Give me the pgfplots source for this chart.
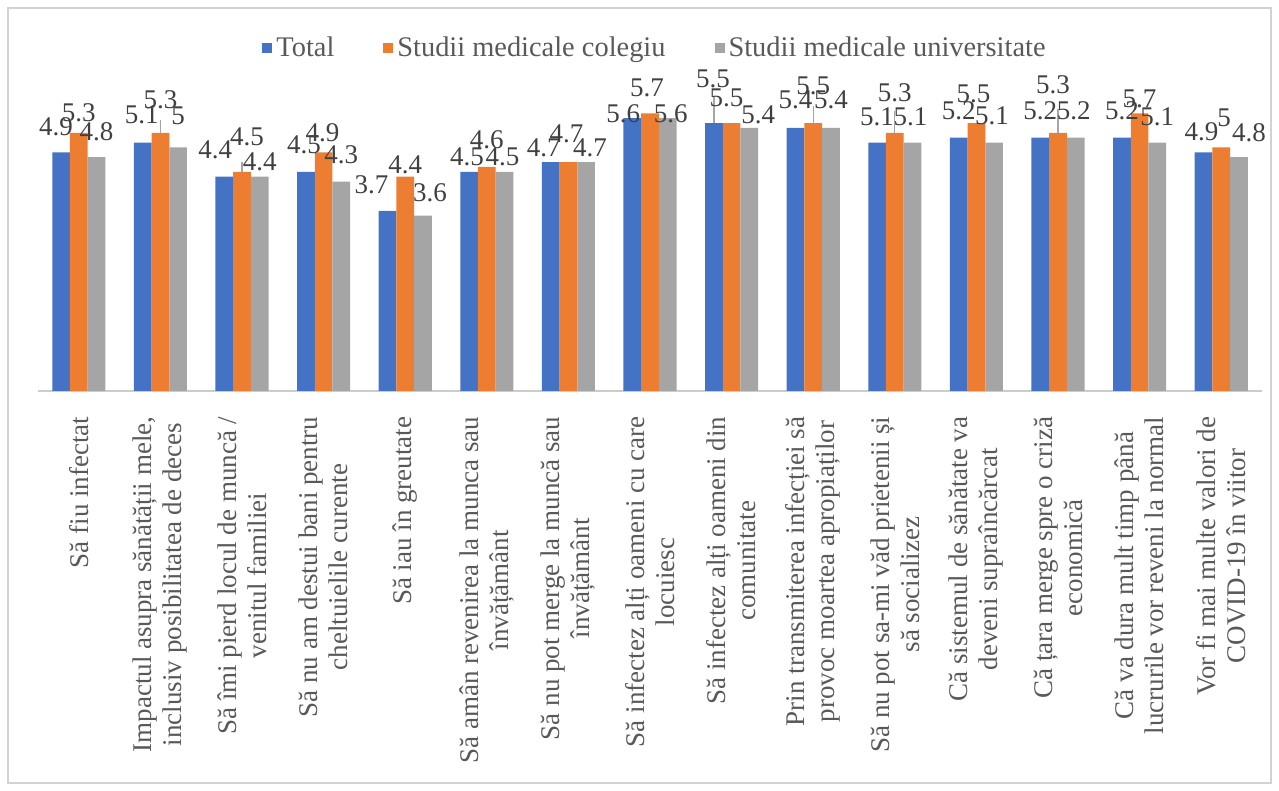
\documentclass[border=0pt]{standalone}
\usepackage{fontspec}
\setmainfont{Liberation Serif}
\usepackage{pgfplots}
\pgfplotsset{compat=1.18}
\usepackage{pgfplotstable}
\definecolor{cTotal}{HTML}{4472C4}
\definecolor{cCol}{HTML}{ED7D31}
\definecolor{cUni}{HTML}{A5A5A5}
\definecolor{lbl}{HTML}{404040}
\definecolor{axc}{HTML}{595959}
\pgfplotsset{sq/.style={legend image code/.code={\fill[##1] (-1.5pt,-2.5pt) rectangle (3.5pt,2.5pt);}}}
% values; label offsets (dx, dy in pt) and leader lengths (te, oe) per point
\pgfplotstableread{
x t o u tdx tdy odx ody udx udy te oe
0 4.9 5.3 4.8 -2.5 8.5 0 5.5 0 8.5 0 0
1 5.1 5.3 5.0 -0.5 9.5 0 12 0 11.5 0 0.27
2 4.4 4.5 4.4 -4.5 9 2.5 13 0 3 0 0.2
3 4.5 4.9 4.3 -1 9 -0.5 5.5 0 9 0 0
4 3.7 4.4 3.6 -8 8.5 0 1.5 3.5 7 0 0
5 4.5 4.6 4.5 -1 3 0 9 -1 3 0 0
6 4.7 4.7 4.7 -3.5 3 -1 10 2 3 0 0
7 5.6 5.7 5.6 -4.5 -2 -1.5 8.5 1.5 -2 0 0
8 5.5 5.5 5.4 -0.5 18 -2.5 8.5 4.5 2 0.55 0
9 5.4 5.5 5.4 0 9.5 0 14.5 0 9.5 0 0.35
10 5.1 5.3 5.1 0 8.5 0 15.5 -1 8.5 0 0.45
11 5.2 5.5 5.1 0 9 -1.5 10.5 -1 9 0 0
12 5.2 5.3 5.2 0 9 -2.5 19.5 -1 9 0 0.49
13 5.2 5.7 5.1 0 9 0 3 0 8.5 0 0
14 4.9 5.0 4.8 -1 6 1.5 10.5 5 8 0 0
}\data
\begin{document}
\begin{tikzpicture}
\path[use as bounding box] (0,0) rectangle (639.5pt,395.5pt);
\draw[color=gray!35, line width=0.6pt] (4pt,4pt) rectangle (635.5pt,391.5pt);
\begin{axis}[
  at={(19pt,200pt)}, anchor=south west,
  scale only axis, width=612pt, height=170.5pt,
  ybar=0pt, bar width=8.85pt,
  xmin=-0.5, xmax=14.5, ymin=0, ymax=7,
  hide y axis,
  axis x line*=bottom,
  x axis line style={draw=gray!40, line width=0.8pt},
  xtick={0,...,14},
  xtick style={draw=none},
  xticklabels={
    {Să fiu infectat},
    {Impactul asupra sănătății mele,\\inclusiv posibilitatea de deces},
    {Să îmi pierd locul de muncă /\\venitul familiei},
    {Să nu am destui bani pentru\\cheltuielile curente},
    {Să iau în greutate},
    {Să amân revenirea la munca sau\\învățământ},
    {Să nu pot merge la muncă sau\\învățământ},
    {Să infectez alți oameni cu care\\locuiesc},
    {Să infectez alți oameni din\\comunitate},
    {Prin transmiterea infecției să\\provoc moartea apropiaților},
    {Să nu pot sa-mi văd prietenii și\\să socializez},
    {Că sistemul de sănătate va\\deveni supraîncărcat},
    {Că țara merge spre o criză\\economică},
    {Că va dura mult timp până\\lucrurile vor reveni la normal},
    {Vor fi mai multe valori de\\COVID-19 în viitor}},
  xticklabel style={rotate=90, anchor=east, align=center, font=\fontsize{13.5}{15}\selectfont, text=axc},
  xticklabel shift=5pt,
  nodes near coords,
  every node near coord/.append style={font=\fontsize{13.5}{15}\selectfont, text=lbl,
     anchor=base, inner sep=0pt, xshift=\ldx pt, yshift=\ldy pt},
  /pgf/number format/assume math mode=true,
  error bars/y dir=plus, error bars/y explicit,
  error bars/error mark=none,
  error bars/error bar style={draw=gray!70, line width=0.6pt},
  legend style={at={(0.5,1)}, anchor=center, xshift=3pt, yshift=1pt, draw=none, fill=none,
    legend columns=3, font=\fontsize{14.2}{16}\selectfont, text=axc,
    /tikz/every even column/.append style={column sep=22.5pt}},
]
\addplot[fill=cTotal, draw=none, sq,
  visualization depends on={\thisrow{tdx} \as \ldx},
  visualization depends on={\thisrow{tdy} \as \ldy}]
  table[x=x,y=t,y error=te]{\data};
\addplot[fill=cCol, draw=none, sq,
  visualization depends on={\thisrow{odx} \as \ldx},
  visualization depends on={\thisrow{ody} \as \ldy}]
  table[x=x,y=o,y error=oe]{\data};
\addplot[fill=cUni, draw=none, sq,
  visualization depends on={\thisrow{udx} \as \ldx},
  visualization depends on={\thisrow{udy} \as \ldy}]
  table[x=x,y=u]{\data};
\legend{Total, Studii medicale colegiu, Studii medicale universitate}
\end{axis}
\end{tikzpicture}
\end{document}
